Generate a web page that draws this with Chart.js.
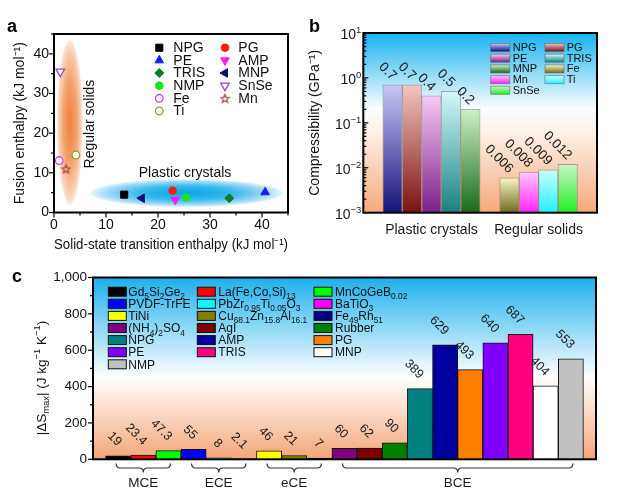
<!DOCTYPE html>
<html>
<head>
<meta charset="utf-8">
<title>Plastic crystals vs regular solids</title>
<script src="https://cdn.jsdelivr.net/npm/chart.js@4.4.1/dist/chart.umd.min.js"></script>
<style>
  body { margin: 0; background: #fff; }
  #page { position: relative; width: 636px; height: 501px; overflow: hidden; font-family: "Liberation Sans", Arial, sans-serif; }
  canvas { position: absolute; }
  .tag { position: absolute; font-weight: bold; font-size: 18px; line-height: 1; color: #000; }
</style>
</head>
<body>
<div id="page">
  <canvas id="chartA" width="300" height="254" style="left:0;top:0"></canvas>
  <canvas id="chartB" width="336" height="250" style="left:300px;top:0"></canvas>
  <canvas id="chartC" width="636" height="251" style="left:0;top:250px"></canvas>
  <div class="tag" style="left:7px;top:17px">a</div>
  <div class="tag" style="left:309px;top:17px">b</div>
  <div class="tag" style="left:12px;top:267px">c</div>
</div>
<script>
const FONT = '"Liberation Sans", Arial, Helvetica, sans-serif';
Chart.defaults.font.family = FONT;
Chart.defaults.color = '#111';
Chart.defaults.animation = false;
Chart.defaults.plugins.legend.display = false;
Chart.defaults.plugins.tooltip.enabled = false;

// a: solid-state transition enthalpy vs fusion enthalpy (kJ/mol)
const aNames = ['NPG', 'PG', 'PE', 'AMP', 'TRIS', 'MNP', 'NMP', 'SnSe', 'Fe', 'Mn', 'Ti'];
const aSolidState = [13.5, 22.8, 40.6, 23.3, 33.7, 16.9, 25.4, 1.2, 1.0, 2.3, 4.2];
const aFusion = [4.5, 5.5, 5.1, 3.2, 3.6, 3.6, 3.8, 35.5, 13.1, 11.0, 14.5];

// b: compressibility (GPa^-1)
const bNames = ['NPG', 'PG', 'PE', 'TRIS', 'MNP', 'Fe', 'Mn', 'Ti', 'SnSe'];
const bValues = [0.7, 0.7, 0.4, 0.5, 0.2, 0.006, 0.008, 0.009, 0.012];
const bGroups = ['Plastic crystals', 'Regular solids'];
const bGroupSizes = [5, 4];

// c: |dS max| (J/kg/K)
const cNames = ['Gd_{5}Si_{2}Ge_{2}', 'La(Fe,Co,Si)_{13}', 'MnCoGeB_{0.02}',
  'PVDF-TrFE', 'PbZr_{0.95}Ti_{0.05}O_{3}', 'BaTiO_{3}',
  'TiNi', 'Cu_{68.1}Zn_{15.8}Al_{16.1}', 'Fe_{49}Rh_{51}',
  '(NH_{4})_{2}SO_{4}', 'AgI', 'Rubber', 'NPG', 'AMP', 'PG', 'PE', 'TRIS', 'MNP', 'NMP'];
const cValues = [19, 23.4, 47.3, 55, 8, 2.1, 46, 21, 7, 60, 62, 90, 389, 629, 493, 640, 687, 404, 553];
const cGroups = ['MCE', 'ECE', 'eCE', 'BCE'];
const cGroupSizes = [3, 3, 3, 10];

// ---- styles
const aMarks = [
  { style: 'rect', color: '#000000', r: 5 },
  { style: 'circle', color: '#ff1a1a', r: 3.8 },
  { style: 'triangle', color: '#1a1aff', r: 5 },
  { style: 'triangle', rot: 180, color: '#ff1aff', r: 5 },
  { style: 'rectRot', color: '#137a2a', r: 4.5 },
  { style: 'triangle', rot: -90, color: '#10106e', r: 5 },
  { style: 'circle', color: '#19e619', r: 3.8 },
  { style: 'triangle', rot: 180, color: '#9a44e6', r: 5, hollow: true },
  { style: 'circle', color: '#c04ad0', r: 3.8, hollow: true },
  { style: 'star', color: '#983838', r: 5, hollow: true },
  { style: 'circle', color: '#9a9a2e', r: 3.8, hollow: true }
];
const aRegions = [
  { cx: 3.06, cy: 22.7, rx: 2.45, ry: 20.8,
    stops: [[0, '#ef7f3c'], [0.5, '#f3a06c'], [0.85, '#f8cdb0'], [1, 'rgba(252,232,218,0.9)']] },
  { cx: 25.5, cy: 4.9, rx: 18.4, ry: 3.5,
    stops: [[0, '#07a5e6'], [0.5, '#38baee'], [0.85, '#a6dcf5'], [1, 'rgba(222,243,252,0.9)']] }
];
const aRegionText = [
  { text: 'Regular solids', x: 7.0, y: 22.3, rot: -90 },
  { text: 'Plastic crystals', x: 25.2, y: 10.0, rot: 0 }
];
const bTop = ['#cac7f7', '#f6c4c0', '#f8c8f4', '#d2fafa', '#caf2c2', '#f8f6c2', '#ffc8ff', '#c8ffff', '#c8f8c8'];
const bBottom = ['#12127a', '#7a1212', '#7c2088', '#1a8080', '#1a6a1a', '#6e6a20', '#ff22ff', '#22f0ff', '#22ee22'];
const cColors = ['#000000', '#ff0000', '#00ff00', '#0000ff', '#00ffff', '#ff00ff', '#ffff00', '#808000', '#000080',
  '#800080', '#800000', '#008000', '#008080', '#00009e', '#ff8000', '#8000ff', '#ff0080', '#ffffff', '#c0c0c0'];

// five point star used as a point style
function starImage(color) {
  const c = document.createElement('canvas');
  c.width = 11; c.height = 11;
  const g = c.getContext('2d');
  g.strokeStyle = color; g.lineWidth = 1.1;
  g.beginPath();
  for (let k = 0; k < 10; k++) {
    const r = k % 2 ? 1.9 : 4.4;
    const t = -Math.PI / 2 + k * Math.PI / 5;
    g.lineTo(5.5 + r * Math.cos(t), 6 + r * Math.sin(t));
  }
  g.closePath(); g.stroke();
  return c;
}

// text with _{sub} and ^{sup}
function drawRich(ctx, str, x, y, size, align, scale) {
  const small = size * (scale || 0.7);
  const parts = [];
  const re = /([_^])\{([^}]*)\}/g;
  let last = 0, m;
  while ((m = re.exec(str))) {
    if (m.index > last) parts.push({ t: str.slice(last, m.index), s: 0 });
    parts.push({ t: m[2], s: m[1] === '_' ? -1 : 1 });
    last = re.lastIndex;
  }
  if (last < str.length) parts.push({ t: str.slice(last), s: 0 });
  let w = 0;
  parts.forEach(p => {
    ctx.font = (p.s ? small : size) + 'px ' + FONT;
    p.w = ctx.measureText(p.t).width; w += p.w;
  });
  let cx = align === 'center' ? x - w / 2 : align === 'right' ? x - w : x;
  parts.forEach(p => {
    ctx.font = (p.s ? small : size) + 'px ' + FONT;
    const dy = p.s === -1 ? size * 0.28 : p.s === 1 ? -size * 0.4 : 0;
    ctx.fillText(p.t, cx, y + dy);
    cx += p.w;
  });
}
const plain = s => s.replace(/[_^]\{([^}]*)\}/g, '$1');

function tickValues(s, t) {
  const out = [];
  if (t.log) {
    for (let e = Math.round(Math.log10(s.min)); e <= Math.round(Math.log10(s.max)); e++) {
      for (let k = 1; k <= 9; k++) {
        const v = k * Math.pow(10, e);
        if (v <= s.max * 1.0001) out.push([v, k === 1]);
      }
    }
  } else {
    for (let v = s.min; v <= s.max + 1e-9; v += t.minor) {
      out.push([v, Math.abs(v / t.major - Math.round(v / t.major)) < 1e-6]);
    }
  }
  return out;
}

// background, tick marks and box round the plot area
const framePlugin = {
  id: 'frame',
  beforeDraw(chart, args, o) {
    if (!o.bg) return;
    const { ctx, chartArea: a } = chart;
    const g = ctx.createLinearGradient(0, a.top, 0, a.bottom);
    o.bg.forEach(s => g.addColorStop(s[0], s[1]));
    ctx.save();
    ctx.fillStyle = g;
    ctx.fillRect(a.left, a.top, a.width, a.height);
    ctx.restore();
  },
  afterDraw(chart, args, o) {
    const { ctx, chartArea: a } = chart;
    ctx.save();
    ctx.strokeStyle = '#000';
    ctx.lineWidth = 1.2;
    (o.ticks || []).forEach(t => {
      const s = chart.scales[t.axis];
      tickValues(s, t).forEach(([v, major]) => {
        const p = s.getPixelForValue(v);
        const len = (major ? 5 : 3) * (t.inward ? 1 : -1);
        ctx.beginPath();
        if (t.axis === 'y') { ctx.moveTo(a.left, p); ctx.lineTo(a.left + len, p); }
        else { ctx.moveTo(p, a.bottom); ctx.lineTo(p, a.bottom - len); }
        ctx.stroke();
      });
    });
    ctx.lineWidth = 2;
    ctx.strokeRect(a.left, a.top, a.width, a.height);
    ctx.restore();
  }
};

//PANEL A
const starImg = starImage('#983838');
const panelA = {
  id: 'panelA',
  beforeDatasetsDraw(chart) {
    const { ctx, chartArea: a, scales: { x, y } } = chart;
    ctx.save();
    ctx.beginPath(); ctx.rect(a.left, a.top, a.width, a.height); ctx.clip();
    aRegions.forEach(r => {
      const px = x.getPixelForValue(r.cx), py = y.getPixelForValue(r.cy);
      const rx = Math.abs(x.getPixelForValue(r.cx + r.rx) - px);
      const ry = Math.abs(y.getPixelForValue(r.cy + r.ry) - py);
      ctx.save();
      ctx.translate(px, py); ctx.scale(rx, ry);
      const g = ctx.createRadialGradient(0, 0, 0, 0, 0, 1);
      r.stops.forEach(s => g.addColorStop(s[0], s[1]));
      ctx.fillStyle = g;
      ctx.beginPath(); ctx.arc(0, 0, 1, 0, Math.PI * 2); ctx.fill();
      ctx.restore();
    });
    ctx.restore();
  },
  afterDatasetsDraw(chart) {
    const { ctx, scales: { x, y } } = chart;
    ctx.save();
    ctx.fillStyle = '#111';
    ctx.font = '14px ' + FONT;
    ctx.textAlign = 'center'; ctx.textBaseline = 'middle';
    aRegionText.forEach(t => {
      ctx.save();
      ctx.translate(x.getPixelForValue(t.x), y.getPixelForValue(t.y));
      ctx.rotate(t.rot * Math.PI / 180);
      ctx.fillText(t.text, 0, 0);
      ctx.restore();
    });
    // legend, two columns
    const markX = [159.3, 225], textX = [173.3, 238.3];
    aNames.forEach((name, i) => {
      const col = i % 2, row = Math.floor(i / 2);
      const yy = 47.7 + row * 12.65;
      const m = aMarks[i];
      ctx.fillStyle = m.hollow ? '#fff' : m.color;
      ctx.strokeStyle = m.color;
      ctx.lineWidth = m.hollow ? 1.3 : 1;
      Chart.helpers.drawPoint(ctx, { pointStyle: m.style === 'star' ? starImg : m.style, rotation: m.rot || 0, radius: m.r, borderWidth: 1 }, markX[col], yy);
      ctx.fillStyle = '#111';
      ctx.textAlign = 'left';
      ctx.font = '14px ' + FONT;
      ctx.fillText(name, textX[col], yy + 0.5);
    });
    ctx.restore();
  }
};

const chartA = new Chart(document.getElementById('chartA'), {
  type: 'scatter',
  data: {
    datasets: aNames.map((name, i) => {
      const m = aMarks[i];
      return {
        label: name,
        data: [{ x: aSolidState[i], y: aFusion[i] }],
        pointStyle: m.style === 'star' ? starImg : m.style,
        pointRotation: m.rot || 0,
        pointRadius: m.r,
        pointBackgroundColor: m.hollow ? '#ffffff' : m.color,
        pointBorderColor: m.color,
        pointBorderWidth: m.hollow ? 1.3 : 1
      };
    })
  },
  options: {
    responsive: false,
    layout: { padding: { left: 0, top: 34, right: 12, bottom: 0 } },
    plugins: { frame: { ticks: [{ axis: 'x', major: 10, minor: 5 }, { axis: 'y', major: 10, minor: 5 }] } },
    scales: {
      x: {
        type: 'linear', min: 0, max: 45,
        grid: { display: false, drawTicks: false }, border: { display: false },
        ticks: { stepSize: 10, padding: 4, font: { size: 14 }, callback: v => (v % 10 === 0 ? v : '') },
        title: { display: true, text: 'Solid-state transition enthalpy (kJ mol⁻¹)', font: { size: 14 }, padding: 0 },
        afterFit: s => { s.height = 41.5; }
      },
      y: {
        type: 'linear', min: 0, max: 45,
        grid: { display: false, drawTicks: false }, border: { display: false },
        ticks: { stepSize: 10, padding: 5, font: { size: 14 }, callback: v => (v % 10 === 0 ? v : '') },
        title: { display: true, text: 'Fusion enthalpy (kJ mol⁻¹)', font: { size: 14 }, padding: { top: 11.6, bottom: 0 } },
        afterFit: s => { s.width = 54; }
      }
    }
  },
  plugins: [framePlugin, panelA]
});

//PANEL B
const bSlots = [null], bSlotOf = [-1];
let k = 0;
bGroupSizes.forEach(n => {
  for (let j = 0; j < n; j++, k++) { bSlots.push(bValues[k]); bSlotOf.push(k); }
  bSlots.push(null); bSlotOf.push(-1);
});

const panelB = {
  id: 'panelB',
  afterDatasetsDraw(chart) {
    const { ctx, chartArea: a } = chart;
    const bars = chart.getDatasetMeta(0).data;
    const ys = chart.scales.y;
    ctx.save();
    ctx.fillStyle = '#1a1a1a';
    // powers of ten on the log axis
    ctx.textBaseline = 'alphabetic';
    for (let e = Math.round(Math.log10(ys.min)); e <= Math.round(Math.log10(ys.max)); e++) {
      drawRich(ctx, '10^{' + String(e).replace('-', '−') + '}', a.left - 2, ys.getPixelForValue(Math.pow(10, e)) + 6, 14, 'right', 0.68);
    }
    ctx.font = '13.5px ' + FONT;
    ctx.textAlign = 'right';
    bSlotOf.forEach((m, s) => {
      if (m < 0) return;
      const el = bars[s];
      ctx.save();
      ctx.translate(el.x - 1, el.y - 4);
      ctx.rotate(Math.PI / 4);
      ctx.fillText(String(bValues[m]), 0, 0);
      ctx.restore();
    });
    // group names under the axis
    ctx.textAlign = 'center'; ctx.textBaseline = 'middle';
    ctx.font = '14px ' + FONT;
    let first = 0;
    bGroups.forEach((g, gi) => {
      const s0 = bSlotOf.indexOf(first), s1 = bSlotOf.indexOf(first + bGroupSizes[gi] - 1);
      ctx.fillText(g, (bars[s0].x + bars[s1].x) / 2, 230);
      first += bGroupSizes[gi];
    });
    // legend, two columns
    const boxX = [190.7, 245], textX = [212.7, 266.7];
    ctx.textAlign = 'left';
    ctx.font = '11px ' + FONT;
    bNames.forEach((name, i) => {
      const col = i % 2, row = Math.floor(i / 2);
      const yy = 47.5 + row * 10.7;
      const g = ctx.createLinearGradient(0, yy - 4, 0, yy + 4);
      g.addColorStop(0, bTop[i]); g.addColorStop(1, bBottom[i]);
      ctx.fillStyle = g;
      ctx.fillRect(boxX[col], yy - 4, 19, 8);
      ctx.strokeStyle = 'rgba(90,90,90,0.5)'; ctx.lineWidth = 1;
      ctx.strokeRect(boxX[col], yy - 4, 19, 8);
      ctx.fillStyle = '#111';
      ctx.fillText(name, textX[col], yy + 0.5);
    });
    ctx.restore();
  }
};

const chartB = new Chart(document.getElementById('chartB'), {
  type: 'bar',
  data: {
    labels: bSlotOf.map(m => (m < 0 ? '' : bNames[m])),
    datasets: [{
      data: bSlots,
      barPercentage: 1,
      categoryPercentage: 1,
      borderColor: 'rgba(90,90,90,0.45)',
      borderWidth: 1,
      backgroundColor(c) {
        const m = bSlotOf[c.dataIndex];
        if (m < 0) return 'transparent';
        const ch = c.chart, ys = ch.scales.y;
        if (!ys || !ch.chartArea) return bBottom[m];
        const top = ys.getPixelForValue(bValues[m]);
        const g = ch.ctx.createLinearGradient(0, top, 0, ch.chartArea.bottom);
        g.addColorStop(0, bTop[m]); g.addColorStop(1, bBottom[m]);
        return g;
      }
    }]
  },
  options: {
    responsive: false,
    layout: { padding: { left: 0, top: 33, right: 39, bottom: 0 } },
    plugins: {
      frame: {
        bg: [[0, '#16b3ef'], [0.42, '#fbfdfe'], [0.55, '#fdf1e8'], [1, '#f5a97a']],
        ticks: [{ axis: 'y', log: true, inward: true }]
      }
    },
    scales: {
      x: {
        type: 'category', offset: true,
        grid: { display: false, drawTicks: false }, border: { display: false },
        ticks: { display: false },
        afterFit: s => { s.height = 37.3; }
      },
      y: {
        type: 'logarithmic', min: 0.001, max: 10,
        grid: { display: false, drawTicks: false }, border: { display: false },
        ticks: { autoSkip: false, padding: 2, font: { size: 14 }, color: 'transparent', callback: () => '10' },
        title: { display: true, text: 'Compressibility (GPa⁻¹)', font: { size: 14 }, padding: { top: 6.6, bottom: 0 } },
        afterFit: s => { s.width = 63.3; }
      }
    }
  },
  plugins: [framePlugin, panelB]
});

//PANEL C
const panelC = {
  id: 'panelC',
  afterDatasetsDraw(chart) {
    const { ctx } = chart;
    const bars = chart.getDatasetMeta(0).data;
    ctx.save();
    ctx.fillStyle = '#1a1a1a';
    ctx.font = '12.5px ' + FONT;
    ctx.textAlign = 'right'; ctx.textBaseline = 'alphabetic';
    cValues.forEach((v, i) => {
      const el = bars[i + 1];
      ctx.save();
      ctx.translate(el.x - 1, el.y - 9.5);
      ctx.rotate(Math.PI / 4);
      ctx.fillText(String(v), 0, 0);
      ctx.restore();
    });
    // brackets and group names
    ctx.strokeStyle = '#333'; ctx.lineWidth = 1.2;
    ctx.textAlign = 'center'; ctx.textBaseline = 'middle';
    ctx.font = '13.5px ' + FONT;
    let first = 0;
    cGroups.forEach((g, gi) => {
      const x1 = bars[first + 1].x - 2, x2 = bars[first + cGroupSizes[gi]].x + 2;
      const mid = (x1 + x2) / 2, y0 = 213.5, y1 = 218, y2 = 222.5;
      ctx.beginPath();
      ctx.moveTo(x1, y0);
      ctx.quadraticCurveTo(x1, y1, x1 + 4, y1);
      ctx.lineTo(mid - 4, y1);
      ctx.quadraticCurveTo(mid, y1, mid, y2);
      ctx.quadraticCurveTo(mid, y1, mid + 4, y1);
      ctx.lineTo(x2 - 4, y1);
      ctx.quadraticCurveTo(x2, y1, x2, y0);
      ctx.stroke();
      ctx.fillText(g, mid, 233.5);
      first += cGroupSizes[gi];
    });
    // legend, three columns
    const boxX = [108.3, 197.3, 314], textX = [128.3, 218.3, 335];
    ctx.textAlign = 'left'; ctx.textBaseline = 'alphabetic';
    ctx.lineWidth = 1; ctx.strokeStyle = '#111';
    cNames.forEach((name, i) => {
      const col = i % 3, row = Math.floor(i / 3);
      const yy = 41.7 + row * 12.1;
      ctx.fillStyle = cColors[i];
      ctx.fillRect(boxX[col], yy - 4.5, 18, 9);
      ctx.strokeRect(boxX[col], yy - 4.5, 18, 9);
      ctx.fillStyle = '#111';
      drawRich(ctx, name, textX[col], yy + 4.2, 12, 'left');
    });
    // y title
    ctx.save();
    ctx.translate(41, 128);
    ctx.rotate(-Math.PI / 2);
    drawRich(ctx, '|ΔS_{max}| (J kg^{−1} K^{−1})', 0, 4.5, 13.5, 'center');
    ctx.restore();
    ctx.restore();
  }
};

const chartC = new Chart(document.getElementById('chartC'), {
  type: 'bar',
  data: {
    labels: ['', ...cNames.map(plain), ''],
    datasets: [{
      data: [null, ...cValues, null],
      backgroundColor: ['transparent', ...cColors, 'transparent'],
      borderColor: '#111',
      borderWidth: 1,
      barPercentage: 1,
      categoryPercentage: 1
    }]
  },
  options: {
    responsive: false,
    layout: { padding: { left: 0, top: 27.5, right: 40, bottom: 0 } },
    plugins: {
      frame: {
        bg: [[0, '#1cb0ee'], [0.55, '#ffffff'], [1, '#f3a677']],
        ticks: [{ axis: 'y', major: 200, minor: 100 }]
      }
    },
    scales: {
      x: {
        type: 'category', offset: false,
        grid: { display: false, drawTicks: false }, border: { display: false },
        ticks: { display: false },
        afterFit: s => { s.height = 41.7; }
      },
      y: {
        type: 'linear', min: 0, max: 1000,
        grid: { display: false, drawTicks: false }, border: { display: false },
        ticks: { stepSize: 200, padding: 6, font: { size: 13.5 }, callback: v => v.toLocaleString('en-US') },
        afterFit: s => { s.width = 93; }
      }
    }
  },
  plugins: [framePlugin, panelC]
});
</script>
</body>
</html>
